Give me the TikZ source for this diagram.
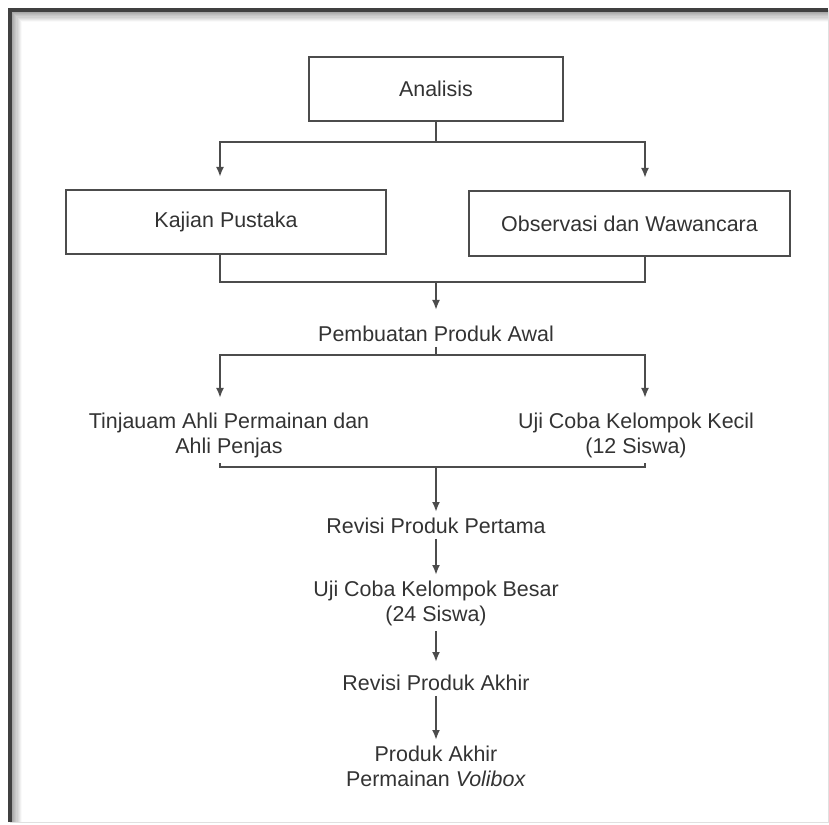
\documentclass[tikz,border=0pt]{standalone}
\usepackage{fontspec}
\setmainfont{Liberation Sans}
\usetikzlibrary{arrows.meta}

\tikzstyle{box}=[draw=black!70, line width=.04cm, text=black!80, minimum height=1.28cm]
\tikzstyle{txt}=[text=black!80, align=center, anchor=north, inner sep=3pt]
\tikzstyle{flowline}=[black!70, line width=.04cm]
\tikzstyle{flowarrow}=[flowline, -{Latex[length=.2cm, width=.16cm]}]

\begin{document}
\begin{tikzpicture}[font=\fontsize{12.2pt}{14.2pt}\selectfont]
  \useasboundingbox (0,0) rectangle (16.58,16.48);
  % frame with inner shadow
  \foreach \i in {1,...,9}
    \draw[black, opacity=.38-.04*\i, line width=.025cm]
      (.22+.024*\i,.04) -- (.22+.024*\i,16.26-.024*\i) -- (16.56,16.26-.024*\i);
  \draw[black!12, line width=.02cm] (16.56,16.28) -- (16.56,.04) -- (.2,.04);
  \draw[black!75, line width=.07cm] (.2,.04) -- (.2,16.28) -- (16.56,16.28);

  \coordinate (L) at (4.4,0);
  \coordinate (R) at (12.9,0);

  \node[box, minimum width=5.08cm] (ana) at (8.72,14.70) {Analisis};
  \node[box, minimum width=6.4cm] (kaj) at (4.52,12.04) {Kajian Pustaka};
  \node[box, minimum width=6.42cm, minimum height=1.3cm] (obs) at (12.59,12.01) {Observasi dan Wawancara};
  \node[txt] (pem) at (8.72,10.08) {Pembuatan Produk Awal};
  \node[txt] (tin) at (4.58,8.34) {Tinjauam Ahli Permainan dan\\Ahli Penjas};
  \node[txt] (ujk) at (12.72,8.34) {Uji Coba Kelompok Kecil\\(12 Siswa)};
  \node[txt] (rev1) at (8.72,6.24) {Revisi Produk Pertama};
  \node[txt] (uji2) at (8.72,4.98) {Uji Coba Kelompok Besar\\(24 Siswa)};
  \node[txt] (rev2) at (8.72,3.10) {Revisi Produk Akhir};
  \node[txt] (prod) at (8.72,1.68) {Produk Akhir\\Permainan \textit{Volibox}};

  \coordinate (f1) at (8.72,13.64);
  \coordinate (j1) at (8.72,10.84);
  \coordinate (f2) at (8.72,9.38);
  \coordinate (j2) at (8.72,7.14);

  \draw[flowline] (ana.south) -- (f1);
  \draw[flowarrow, shorten >=.24cm] (f1) -| (kaj.north -| L);
  \draw[flowarrow, shorten >=.24cm] (f1) -| (obs.north -| R);
  \draw[flowline] (kaj.south -| L) |- (j1) -| (obs.south -| R);
  \draw[flowarrow, shorten >=.2cm] (j1) -- (pem.north);
  \draw[flowline] (pem.south) -- (f2);
  \draw[flowarrow, shorten >=.18cm] (f2) -| (tin.north -| L);
  \draw[flowarrow, shorten >=.18cm] (f2) -| (ujk.north -| R);
  \draw[flowline] (tin.south -| L) |- (j2) -| (ujk.south -| R);
  \draw[flowarrow] (j2) -- (rev1.north);
  \draw[flowarrow] (rev1) -- (uji2);
  \draw[flowarrow, shorten >=.14cm] (uji2) -- (rev2);
  \draw[flowarrow] (rev2) -- (prod);
\end{tikzpicture}
\end{document}
